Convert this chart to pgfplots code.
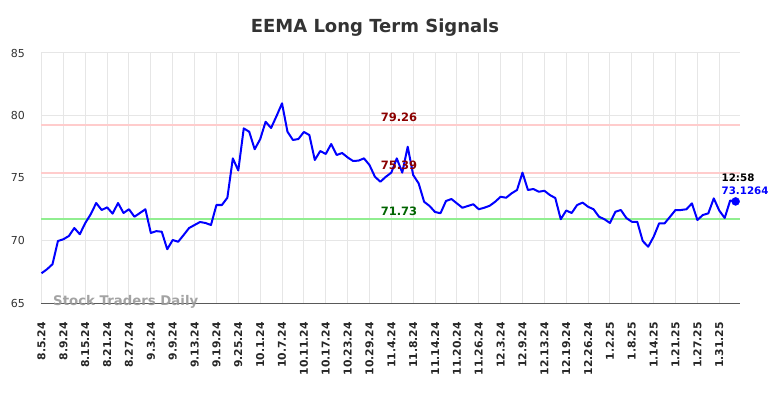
\documentclass[border=0pt]{standalone}
\usepackage{pgfplots}
\pgfplotsset{compat=1.18}
\usepackage{pgfplotstable}
\usepackage{fontspec}
\setmainfont{DejaVu Sans}
\definecolor{pinkline}{RGB}{255,204,204}
\definecolor{greenline}{RGB}{144,238,144}
\definecolor{darkredlbl}{RGB}{139,0,0}
\definecolor{darkgreenlbl}{RGB}{0,100,0}
\definecolor{gridgray}{RGB}{230,230,230}
\definecolor{titlegray}{RGB}{51,51,51}
\pgfplotstableread{
idx val
0 67.38
1 67.7
2 68.1
3 69.96
4 70.1
5 70.36
6 71.0
7 70.5
8 71.4
9 72.1
10 73.0
11 72.44
12 72.65
13 72.15
14 73.0
15 72.2
16 72.5
17 71.9
18 72.2
19 72.5
20 70.6
21 70.75
22 70.7
23 69.3
24 70.04
25 69.9
26 70.44
27 71.0
28 71.24
29 71.48
30 71.4
31 71.24
32 72.84
33 72.84
34 73.42
35 76.57
36 75.6
37 78.97
38 78.7
39 77.3
40 78.1
41 79.5
42 79.0
43 79.96
44 80.97
45 78.7
46 78.04
47 78.12
48 78.68
49 78.44
50 76.44
51 77.16
52 76.92
53 77.72
54 76.84
55 77.0
56 76.65
57 76.36
58 76.39
59 76.57
60 76.04
61 75.1
62 74.7
63 75.1
64 75.43
65 76.57
66 75.43
67 77.5
68 75.24
69 74.57
70 73.1
71 72.76
72 72.28
73 72.18
74 73.16
75 73.32
76 72.97
77 72.62
78 72.76
79 72.9
80 72.5
81 72.62
82 72.78
83 73.1
84 73.5
85 73.42
86 73.77
87 74.04
88 75.43
89 74.04
90 74.12
91 73.9
92 73.98
93 73.64
94 73.4
95 71.7
96 72.4
97 72.2
98 72.84
99 73.03
100 72.7
101 72.5
102 71.9
103 71.7
104 71.4
105 72.3
106 72.44
107 71.8
108 71.5
109 71.5
110 69.96
111 69.5
112 70.3
113 71.37
114 71.37
115 71.9
116 72.44
117 72.44
118 72.5
119 72.97
120 71.64
121 72.04
122 72.17
123 73.37
124 72.4
125 71.8
126 73.2
127 73.1264
}\pricedata
\begin{document}
\begin{tikzpicture}
\path[use as bounding box] (-41bp,-95bp) rectangle (743bp,303bp);
\begin{axis}[
  at={(0,0)}, anchor=south west,
  scale only axis,
  width=699bp, height=250bp,
  xmin=-0.1, xmax=127.8,
  ymin=65, ymax=85,
  clip=false,
  axis x line*=bottom,
  axis y line*=left,
  y axis line style={draw=none},
  x axis line style={draw=black!65, line width=1bp},
  major tick length=0,
  grid=major,
  major grid style={draw=gridgray, line width=1bp},
  ytick={65,70,75,80,85},
  yticklabels={65,70,75,80,85},
  yticklabel style={font=\fontsize{11bp}{13bp}\selectfont, text=titlegray, anchor=east, inner sep=0pt, xshift=-16bp},
  xtick={0,4,...,124},
  xticklabels={8.5.24,8.9.24,8.15.24,8.21.24,8.27.24,9.3.24,9.9.24,9.13.24,9.19.24,9.25.24,10.1.24,10.7.24,10.11.24,10.17.24,10.23.24,10.29.24,11.4.24,11.8.24,11.14.24,11.20.24,11.26.24,12.3.24,12.9.24,12.13.24,12.19.24,12.26.24,1.2.25,1.8.25,1.14.25,1.21.25,1.27.25,1.31.25},
  xticklabel style={font=\bfseries\fontsize{10.8bp}{13bp}\selectfont, text=black!85, yshift=-19bp, rotate=90, anchor=east, inner sep=0pt},
]
\addplot[draw=pinkline, line width=2bp, forget plot] coordinates {(-0.1,79.26) (127.8,79.26)};
\addplot[draw=pinkline, line width=2bp, forget plot] coordinates {(-0.1,75.39) (127.8,75.39)};
\addplot[draw=greenline, line width=2bp, forget plot] coordinates {(-0.1,71.73) (127.8,71.73)};
\addplot[draw=blue, line width=2bp, line join=round, mark=none] table[x=idx, y=val] {\pricedata};
\addplot[only marks, mark=*, mark size=4bp, color=blue] coordinates {(127,73.1264)};
\node[anchor=base, inner sep=0pt, text=darkredlbl, font=\bfseries\fontsize{11.5bp}{13bp}\selectfont, yshift=3bp] at (axis cs:65.4,79.26) {79.26};
\node[anchor=base, inner sep=0pt, text=darkredlbl, font=\bfseries\fontsize{11.5bp}{13bp}\selectfont, yshift=3.5bp] at (axis cs:65.4,75.39) {75.39};
\node[anchor=base, inner sep=0pt, text=darkgreenlbl, font=\bfseries\fontsize{11.5bp}{13bp}\selectfont, yshift=3.5bp] at (axis cs:65.4,71.73) {71.73};
\node[anchor=west, inner sep=0pt, text=black, font=\bfseries\fontsize{10.3bp}{12bp}\selectfont] at (axis cs:124.4,75.02) {12:58};
\node[anchor=west, inner sep=0pt, text=blue, font=\bfseries\fontsize{10.3bp}{12bp}\selectfont] at (axis cs:124.4,73.96) {73.1264};
\node[anchor=west, inner sep=0pt, text=black!40, opacity=0.9, font=\bfseries\fontsize{13.3bp}{15bp}\selectfont] at (axis cs:2.1,65.05) {Stock Traders Daily};
\end{axis}
\node[anchor=base, inner sep=0pt, text=titlegray, font=\bfseries\fontsize{18bp}{21bp}\selectfont] at (334bp,270.7bp) {EEMA Long Term Signals};
\end{tikzpicture}
\end{document}
